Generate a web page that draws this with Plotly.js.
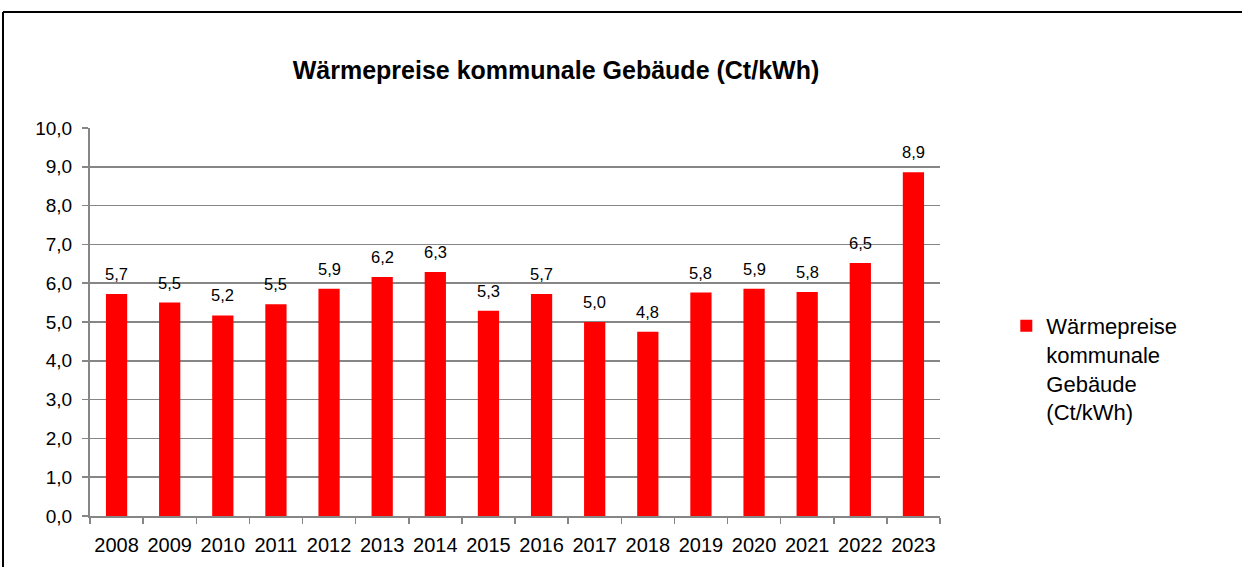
<!DOCTYPE html>
<html><head><meta charset="utf-8">
<script src="https://cdn.plot.ly/plotly-3.0.1.min.js"></script>
<style>html,body{margin:0;padding:0;background:#fff;}#chart{width:1242px;height:567px;}</style>
</head><body><div id="chart"></div>
<script>
var years = ["2008","2009","2010","2011","2012","2013","2014","2015","2016","2017","2018","2019","2020","2021","2022","2023"];
var values = [5.72,5.50,5.17,5.46,5.86,6.16,6.29,5.29,5.72,5.00,4.75,5.76,5.86,5.77,6.52,8.86];
var seriesName = "Wärmepreise kommunale Gebäude (Ct/kWh)";
var legendName = "Wärmepreise<br>kommunale<br>Gebäude<br>(Ct/kWh)";
var yTicks = [0,1,2,3,4,5,6,7,8,9,10];

var font = "Liberation Sans, Arial, sans-serif";
function fmt(v){ return (Math.round(v*10)/10).toFixed(1).replace('.', ','); }

var annotations = years.map(function(y,i){
  return {x:i, y:values[i], xref:'x', yref:'y', text:fmt(values[i]), showarrow:false,
    yanchor:'bottom', yshift:9, font:{family:font, size:16.5, color:'#000'}};
});

var trace = {type:'bar', x:years, y:values, name:legendName,
  marker:{color:'#FF0000', line:{width:0}}, hoverinfo:'skip'};

var layout = {
  width:1242, height:567,
  margin:{l:90, r:302, t:128, b:51},
  paper_bgcolor:'#fff', plot_bgcolor:'#fff',
  separators:',.',
  bargap:0.6,
  title:{text:'<b>'+seriesName+'</b>', x:556/1242, xref:'container', xanchor:'center',
    y:1-70/567, yref:'container', yanchor:'middle', font:{family:font, size:25, color:'#000'}},
  xaxis:{type:'category', range:[-0.5,15.5], showgrid:false, showline:true, linecolor:'#868686', linewidth:2,
    ticks:'outside', tickson:'boundaries', ticklen:6, tickcolor:'#868686', tickwidth:1.5, tickangle:0,
    tickfont:{family:font, size:20, color:'#000'}, ticklabelstandoff:10, fixedrange:true},
  yaxis:{range:[0,10], tickvals:yTicks, tickformat:'.1f', showgrid:true, gridcolor:'#868686', gridwidth:1.5,
    showline:true, linecolor:'#868686', linewidth:2, ticks:'outside', ticklen:6, tickcolor:'#868686', tickwidth:1.5,
    tickfont:{family:font, size:19, color:'#000'}, ticklabelstandoff:6, zeroline:false, fixedrange:true},
  showlegend:true,
  legend:{x:1.078, xanchor:'left', y:(514-303)/388, yanchor:'top', valign:'top',
    font:{family:font, size:22, color:'#000'}, bgcolor:'rgba(0,0,0,0)', borderwidth:0,
    itemwidth:30, tracegroupgap:0},
  annotations:annotations,
  shapes:[
    {type:'line', xref:'paper', yref:'paper', x0:(3-90)/850, x1:(1242-90)/850, y0:(516-12)/388, y1:(516-12)/388, line:{color:'#000', width:2}},
    {type:'line', xref:'paper', yref:'paper', x0:(3-90)/850, x1:(3-90)/850, y0:(516-12)/388, y1:(516-570)/388, line:{color:'#000', width:2}}
  ]
};
Plotly.newPlot('chart', [trace], layout, {displayModeBar:false, staticPlot:true});
</script></body></html>
